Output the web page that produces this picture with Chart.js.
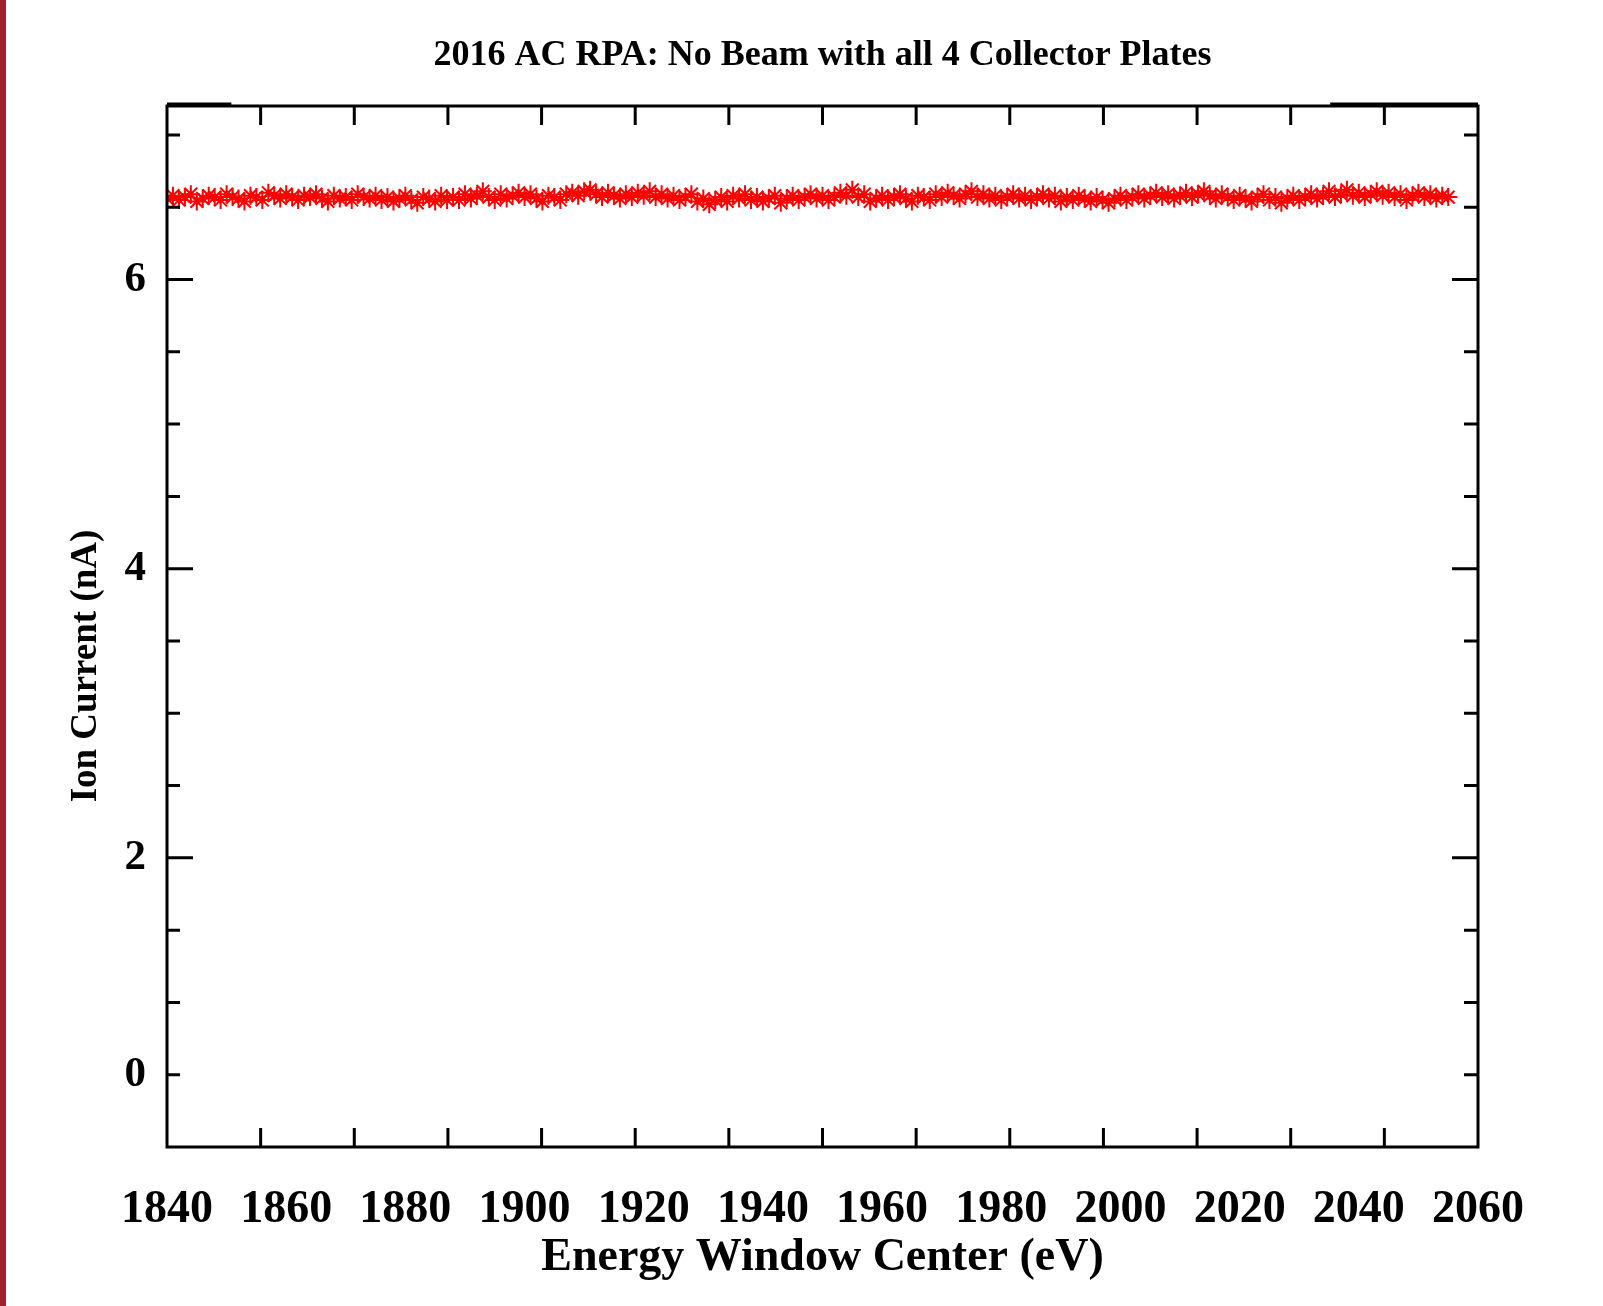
<!DOCTYPE html>
<html>
<head>
<meta charset="utf-8">
<script src="https://cdn.jsdelivr.net/npm/chart.js@4.4.1/dist/chart.umd.min.js"></script>
<style>
  html, body { margin: 0; padding: 0; background: #ffffff; }
  #wrap { position: relative; width: 1603px; height: 1306px; overflow: hidden; background: #ffffff; }
  #strip { position: absolute; left: 0; top: 0; width: 6px; height: 1306px; background: #a11f2e; }
  canvas { position: absolute; left: 0; top: 0; }
</style>
</head>
<body>
<div id="wrap">
  <canvas id="c" width="1603" height="1306"></canvas>
  <div id="strip"></div>
</div>
<script>
const chartTitle = "2016 AC RPA: No Beam with all 4 Collector Plates";
const xAxisTitle = "Energy Window Center (eV)";
const yAxisTitle = "Ion Current (nA)";

const xMin = 1840, xMax = 2060;
const xLabelValues = [1840, 1860, 1880, 1900, 1920, 1940, 1960, 1980, 2000, 2020, 2040, 2060];
const yMin = 0, yMax = 7.2;

// tick marks along the x frame (unlabelled)
const xMarkValues = [1855.714, 1871.429, 1887.143, 1902.857, 1918.571, 1934.286, 1950,
                     1965.714, 1981.429, 1997.143, 2012.857, 2028.571, 2044.286];
// y minor tick marks and labelled ticks
const yMinorValues = [0.5, 1, 1.5, 2.5, 3, 3.5, 4.5, 5, 5.5, 6.5, 7];
const yMajorValues = [2, 4, 6];
const yLabelValues = [0.5, 2, 4, 6];
const yLabelTexts = ['0', '2', '4', '6'];

const energies = [
  1840,1841,1842,1843,1844,1845,1846,1847,1848,1849,1850,1851,
  1852,1853,1854,1855,1856,1857,1858,1859,1860,1861,1862,1863,
  1864,1865,1866,1867,1868,1869,1870,1871,1872,1873,1874,1875,
  1876,1877,1878,1879,1880,1881,1882,1883,1884,1885,1886,1887,
  1888,1889,1890,1891,1892,1893,1894,1895,1896,1897,1898,1899,
  1900,1901,1902,1903,1904,1905,1906,1907,1908,1909,1910,1911,
  1912,1913,1914,1915,1916,1917,1918,1919,1920,1921,1922,1923,
  1924,1925,1926,1927,1928,1929,1930,1931,1932,1933,1934,1935,
  1936,1937,1938,1939,1940,1941,1942,1943,1944,1945,1946,1947,
  1948,1949,1950,1951,1952,1953,1954,1955,1956,1957,1958,1959,
  1960,1961,1962,1963,1964,1965,1966,1967,1968,1969,1970,1971,
  1972,1973,1974,1975,1976,1977,1978,1979,1980,1981,1982,1983,
  1984,1985,1986,1987,1988,1989,1990,1991,1992,1993,1994,1995,
  1996,1997,1998,1999,2000,2001,2002,2003,2004,2005,2006,2007,
  2008,2009,2010,2011,2012,2013,2014,2015,2016,2017,2018,2019,
  2020,2021,2022,2023,2024,2025,2026,2027,2028,2029,2030,2031,
  2032,2033,2034,2035,2036,2037,2038,2039,2040,2041,2042,2043,
  2044,2045,2046,2047,2048,2049,2050,2051,2052,2053,2054,2055
];
const ionCurrent = [
  6.56,6.58,6.55,6.57,6.59,6.54,6.56,6.58,6.57,6.55,6.59,6.57,
  6.56,6.54,6.58,6.57,6.55,6.60,6.58,6.56,6.59,6.57,6.55,6.58,
  6.57,6.59,6.56,6.54,6.58,6.56,6.57,6.55,6.59,6.57,6.56,6.58,
  6.55,6.57,6.54,6.56,6.58,6.55,6.53,6.57,6.56,6.54,6.58,6.55,
  6.57,6.55,6.59,6.56,6.58,6.61,6.57,6.55,6.59,6.56,6.58,6.60,
  6.57,6.59,6.56,6.54,6.58,6.57,6.55,6.59,6.60,6.58,6.61,6.62,
  6.59,6.57,6.60,6.58,6.56,6.59,6.57,6.60,6.58,6.61,6.57,6.59,
  6.56,6.58,6.55,6.57,6.59,6.54,6.56,6.52,6.55,6.57,6.54,6.58,
  6.56,6.59,6.55,6.57,6.54,6.56,6.58,6.53,6.56,6.58,6.55,6.57,
  6.59,6.56,6.58,6.55,6.57,6.60,6.58,6.62,6.57,6.59,6.54,6.56,
  6.58,6.55,6.57,6.59,6.56,6.54,6.58,6.57,6.55,6.59,6.57,6.60,
  6.58,6.56,6.59,6.61,6.57,6.59,6.56,6.58,6.55,6.57,6.59,6.56,
  6.58,6.55,6.57,6.59,6.56,6.58,6.54,6.57,6.55,6.58,6.56,6.54,
  6.57,6.55,6.53,6.56,6.58,6.55,6.57,6.59,6.56,6.58,6.60,6.57,
  6.59,6.56,6.58,6.60,6.57,6.59,6.61,6.58,6.56,6.59,6.57,6.55,
  6.58,6.56,6.54,6.57,6.59,6.55,6.57,6.53,6.56,6.58,6.55,6.57,
  6.59,6.56,6.58,6.61,6.57,6.59,6.62,6.58,6.60,6.57,6.59,6.61,
  6.58,6.60,6.57,6.59,6.55,6.58,6.60,6.57,6.59,6.56,6.58,6.57
];

const serif = '"Liberation Serif", "DejaVu Serif", serif';

const framePlugin = {
  id: 'frame',
  afterDatasetsDraw(chart) {
    const ctx = chart.ctx;
    const a = chart.chartArea;
    const xs = chart.scales.x, ys = chart.scales.y;
    ctx.save();
    ctx.strokeStyle = '#000';
    ctx.lineWidth = 3;
    ctx.lineCap = 'butt';
    ctx.beginPath();
    ctx.rect(a.left, a.top, a.right - a.left, a.bottom - a.top);
    ctx.stroke();
    // slightly heavier top segments at both ends
    ctx.beginPath();
    ctx.moveTo(a.left, a.top - 2); ctx.lineTo(xs.getPixelForValue(1850.8), a.top - 2);
    ctx.moveTo(xs.getPixelForValue(2035.2), a.top - 2); ctx.lineTo(a.right, a.top - 2);
    ctx.stroke();
    ctx.beginPath();
    xMarkValues.forEach(v => {
      const px = xs.getPixelForValue(v);
      ctx.moveTo(px, a.bottom); ctx.lineTo(px, a.bottom - 19);
      ctx.moveTo(px, a.top); ctx.lineTo(px, a.top + 19);
    });
    yMinorValues.forEach(v => {
      const py = ys.getPixelForValue(v);
      ctx.moveTo(a.left, py); ctx.lineTo(a.left + 13, py);
      ctx.moveTo(a.right, py); ctx.lineTo(a.right - 14, py);
    });
    yMajorValues.forEach(v => {
      const py = ys.getPixelForValue(v);
      ctx.moveTo(a.left, py); ctx.lineTo(a.left + 26, py);
      ctx.moveTo(a.right, py); ctx.lineTo(a.right - 26, py);
    });
    ctx.stroke();
    // y axis title
    ctx.fillStyle = '#000';
    ctx.font = 'bold 37px ' + serif;
    ctx.textAlign = 'center';
    ctx.textBaseline = 'middle';
    ctx.translate(86, 666);
    ctx.rotate(-Math.PI / 2);
    ctx.fillText(yAxisTitle, 0, 0);
    ctx.restore();
  }
};

const bgPlugin = {
  id: 'bg',
  beforeDraw(chart) {
    const ctx = chart.ctx;
    ctx.save();
    ctx.fillStyle = '#fff';
    ctx.fillRect(0, 0, chart.width, chart.height);
    ctx.restore();
  }
};

new Chart(document.getElementById('c'), {
  type: 'scatter',
  data: {
    datasets: [{
      data: energies.map((e, i) => ({ x: e, y: ionCurrent[i] })),
      pointStyle: 'star',
      pointRadius: 9,
      pointHoverRadius: 9,
      borderWidth: 2,
      borderColor: '#ff0000',
      backgroundColor: '#ff0000',
      showLine: false,
      clip: 0
    }]
  },
  options: {
    responsive: false,
    devicePixelRatio: 1,
    animation: false,
    events: [],
    layout: { padding: { left: 0, top: 0, right: 125, bottom: 0 } },
    plugins: {
      legend: { display: false },
      tooltip: { enabled: false },
      title: {
        display: true,
        text: chartTitle,
        fullSize: false,
        color: '#000',
        font: { family: serif, size: 36, weight: 'bold', lineHeight: 1.2 },
        padding: { top: 34, bottom: 28.8 }
      }
    },
    scales: {
      x: {
        type: 'linear',
        position: 'bottom',
        min: xMin, max: xMax,
        afterBuildTicks(scale) {
          scale.ticks = xLabelValues.map(v => ({ value: v }));
        },
        afterFit(scale) { scale.height = 159; },
        ticks: {
          autoSkip: false,
          maxRotation: 0,
          padding: 28,
          color: '#000',
          font: { family: serif, size: 46, weight: 'bold', lineHeight: 1.2 },
          callback(value) { return String(value); }
        },
        grid: { display: false },
        border: { display: false },
        title: {
          display: true,
          text: xAxisTitle,
          color: '#000',
          font: { family: serif, size: 46, weight: 'bold', lineHeight: 1.2 },
          padding: { top: 0, bottom: 20 }
        }
      },
      y: {
        type: 'linear',
        position: 'left',
        min: yMin, max: yMax,
        afterBuildTicks(scale) {
          scale.ticks = yLabelValues.map(v => ({ value: v }));
        },
        afterFit(scale) { scale.width = 167; },
        ticks: {
          padding: 13,
          color: '#000',
          font: { family: serif, size: 43, weight: 'bold' },
          callback(value) {
            const i = yLabelValues.indexOf(value);
            return i >= 0 ? yLabelTexts[i] : '';
          }
        },
        grid: { display: false },
        border: { display: false }
      }
    }
  },
  plugins: [bgPlugin, framePlugin]
});
</script>
</body>
</html>
